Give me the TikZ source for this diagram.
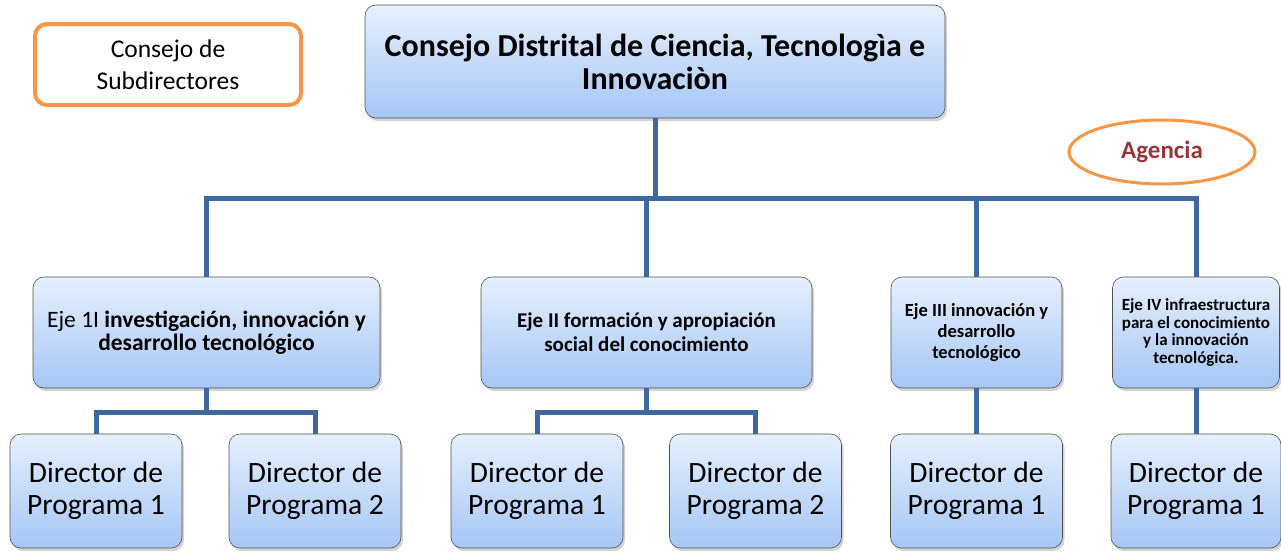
\documentclass[tikz,border=0pt]{standalone}
\usepackage{fontspec}
\setmainfont{Carlito}
\usetikzlibrary{shadows,shapes.geometric}
\definecolor{conncol}{RGB}{62,104,158}
\definecolor{boxtop}{RGB}{230,240,253}
\definecolor{boxbot}{RGB}{166,198,245}
\definecolor{boxedge}{RGB}{80,80,80}
\definecolor{orangeedge}{RGB}{247,150,70}
\definecolor{agred}{RGB}{149,55,53}
\tikzset{
  bluebox/.style={rectangle, rounded corners=11pt, draw=boxedge, line width=0.6pt,
    top color=boxtop, bottom color=boxbot, align=center, inner sep=2pt,
    drop shadow={shadow xshift=2pt, shadow yshift=-3pt, opacity=0.35}},
  conn/.style={draw=conncol, line width=5pt},
  orangebox/.style={rectangle, rounded corners=12pt, draw=orangeedge, line width=4pt,
    fill=white, align=center},
  dirbox/.style={bluebox, minimum width=172pt, minimum height=114pt,
    font=\fontsize{29.5}{32}\selectfont}
}
\begin{document}
\begin{tikzpicture}[x=1pt,y=-1pt]
\useasboundingbox (0,0) rectangle (1281,555);
\coordinate (bar) at (0,198);
\coordinate (barb) at (0,412);
\node[bluebox, minimum width=580pt, minimum height=113pt,
  font=\fontsize{32}{33}\selectfont\bfseries] (top) at (655,61.5)
  {Consejo Distrital de Ciencia, Tecnologìa e\\Innovaciòn};
\node[bluebox, minimum width=347pt, minimum height=111pt,
  font=\fontsize{23.5}{23}\selectfont] (e1) at (206.5,332.5)
  {Eje 1I \textbf{investigación, innovación y}\\\textbf{desarrollo tecnológico}};
\node[bluebox, minimum width=331pt, minimum height=111pt,
  font=\fontsize{21}{24}\selectfont\bfseries] (e2) at (646.5,332.5)
  {Eje II formación y apropiación\\social del conocimiento};
\node[bluebox, minimum width=171pt, minimum height=111pt,
  font=\fontsize{18.5}{21}\selectfont\bfseries] (e3) at (976.5,332.5)
  {Eje III innovación y\\desarrollo\\tecnológico};
\node[bluebox, minimum width=167pt, minimum height=111pt,
  font=\fontsize{17}{17.5}\selectfont\bfseries] (e4) at (1196,332.5)
  {Eje IV infraestructura\\para el conocimiento\\y la innovación\\tecnológica.};
\node[dirbox] (d1a) at (96,491) {Director de\\Programa 1};
\node[dirbox] (d2a) at (315,491) {Director de\\Programa 2};
\node[dirbox] (d1b) at (537,491) {Director de\\Programa 1};
\node[dirbox] (d2b) at (755.5,491) {Director de\\Programa 2};
\node[dirbox] (d1c) at (976.5,491) {Director de\\Programa 1};
\node[dirbox, minimum width=170pt] (d1d) at (1196,491) {Director de\\Programa 1};
\node[orangebox, minimum width=266pt, minimum height=81pt,
  font=\fontsize{25.5}{32}\selectfont] (sub) at (168,64.5)
  {Consejo de\\Subdirectores};
\node[ellipse, draw=orangeedge, line width=3pt, fill=white,
  minimum width=186pt, minimum height=64pt,
  font=\fontsize{25}{28}\selectfont\bfseries, text=agred] (ag) at (1162,152) {Agencia};
\path[conn] (top.south) -- (top.south |- bar);
\path[conn] (e1.north) |- (e4.north |- bar) -- (e4.north);
\path[conn] (e2.north) -- (e2.north |- bar);
\path[conn] (e3.north) -- (e3.north |- bar);
\path[conn] (e1.south) -- (e1.south |- barb);
\path[conn] (d1a.north) |- (d2a.north |- barb) -- (d2a.north);
\path[conn] (e2.south) -- (e2.south |- barb);
\path[conn] (d1b.north) |- (d2b.north |- barb) -- (d2b.north);
\path[conn] (e3.south) -- (d1c.north);
\path[conn] (e4.south) -- (d1d.north);
\end{tikzpicture}
\end{document}
